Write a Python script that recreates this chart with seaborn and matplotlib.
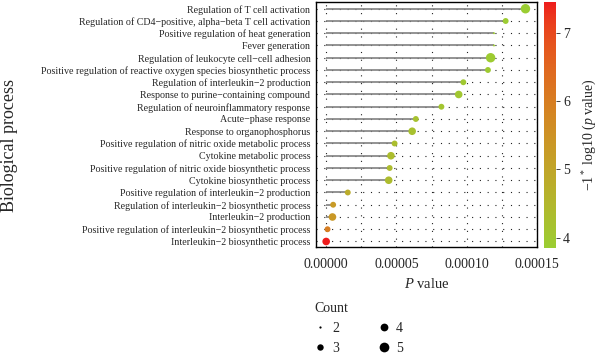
import numpy as np
import pandas as pd
import matplotlib
matplotlib.use("Agg")
import matplotlib.pyplot as plt
import seaborn as sns
from matplotlib.colors import LinearSegmentedColormap, Normalize
from matplotlib.lines import Line2D

# ---------------- data ----------------
terms = [
    "Regulation of T cell activation",
    "Regulation of CD4\u2212positive, alpha\u2212beta T cell activation",
    "Positive regulation of heat generation",
    "Fever generation",
    "Regulation of leukocyte cell\u2212cell adhesion",
    "Positive regulation of reactive oxygen species biosynthetic process",
    "Regulation of interleukin\u22122 production",
    "Response to purine\u2212containing compound",
    "Regulation of neuroinflammatory response",
    "Acute\u2212phase response",
    "Response to organophosphorus",
    "Positive regulation of nitric oxide metabolic process",
    "Cytokine metabolic process",
    "Positive regulation of nitric oxide biosynthetic process",
    "Cytokine biosynthetic process",
    "Positive regulation of interleukin\u22122 production",
    "Regulation of interleukin\u22122 biosynthetic process",
    "Interleukin\u22122 production",
    "Positive regulation of interleukin\u22122 biosynthetic process",
    "Interleukin\u22122 biosynthetic process",
]
pvalues = [1.418e-4, 1.277e-4, 1.194e-4, 1.194e-4, 1.170e-4, 1.151e-4,
           0.976e-4, 0.943e-4, 0.820e-4, 0.638e-4, 0.612e-4, 0.487e-4,
           0.461e-4, 0.452e-4, 0.445e-4, 0.154e-4, 5.0e-6, 4.5e-6,
           1.0e-6, 3.5e-8]
counts = [5, 3, 2, 2, 5, 3, 3, 4, 3, 3, 4, 3, 4, 3, 4, 3, 3, 4, 3, 4]
xticks = [0.0, 0.00005, 0.00010, 0.00015]
xticklabels = ["0.00000", "0.00005", "0.00010", "0.00015"]
cbar_ticks = [4, 5, 6, 7]

df = pd.DataFrame({"term": terms, "p": pvalues, "count": counts})
df["logp"] = -np.log10(df["p"])
df["ypos"] = np.arange(len(df))

# ---------------- colormap (Lab interpolation) ----------------
_M = np.array([[0.4124, 0.3576, 0.1805], [0.2126, 0.7152, 0.0722], [0.0193, 0.1192, 0.9505]])
_W = np.array([0.95047, 1.0, 1.08883])

def _srgb_to_lab(rgb):
    c = np.array(rgb, dtype=float)
    lin = np.where(c <= 0.04045, c / 12.92, ((c + 0.055) / 1.055) ** 2.4)
    xyz = _M @ lin / _W
    f = np.where(xyz > 0.008856, np.cbrt(xyz), 7.787 * xyz + 16 / 116)
    return np.array([116 * f[1] - 16, 500 * (f[0] - f[1]), 200 * (f[1] - f[2])])

def _lab_to_srgb(lab):
    L, a, b = lab
    fy = (L + 16) / 116
    f = np.array([fy + a / 500, fy, fy - b / 200])
    xyz = np.where(f ** 3 > 0.008856, f ** 3, (f - 16 / 116) / 7.787) * _W
    lin = np.clip(np.linalg.inv(_M) @ xyz, 0, 1)
    c = np.where(lin <= 0.0031308, 12.92 * lin, 1.055 * lin ** (1 / 2.4) - 0.055)
    return np.clip(c, 0, 1)

low = matplotlib.colors.to_rgb("#9ACD32")
high = matplotlib.colors.to_rgb("#EE1C1C")
la, lb = _srgb_to_lab(low), _srgb_to_lab(high)
cols = [_lab_to_srgb(la + (lb - la) * t) for t in np.linspace(0, 1, 64)]
cmap = LinearSegmentedColormap.from_list("yg_red", cols)
vmin, vmax = df["logp"].min(), df["logp"].max()
norm = Normalize(vmin=vmin, vmax=vmax)

# ---------------- style ----------------
sns.set_theme(style="white")
plt.rcParams["font.family"] = ["Liberation Serif", "DejaVu Serif"]
plt.rcParams["mathtext.fontset"] = "custom"
plt.rcParams["mathtext.rm"] = "Liberation Serif"
plt.rcParams["mathtext.it"] = "Liberation Serif:italic"

fig = plt.figure(figsize=(6.0, 3.57), dpi=100)
ax = fig.add_axes([316 / 600, 1 - 247 / 357, (537 - 316) / 600, (247 - 2) / 357])
cax = fig.add_axes([544 / 600, 1 - 248 / 357, 12 / 600, (248 - 2) / 357])

# grid (dotted)
for x in np.arange(0, 0.000151, 0.000025):
    ax.axvline(x, color="#222222", lw=0.8, ls=(0, (1, 6)), zorder=0)
for y in df["ypos"]:
    ax.axhline(y, color="#222222", lw=0.8, ls=(0, (1, 6)), zorder=0)

# segments
ax.hlines(df["ypos"], 0, df["p"], color="#808080", lw=1.2, zorder=1)

size_map = {2: 2.0, 3: 18, 4: 30, 5: 46}
sns.scatterplot(data=df, x="p", y="ypos", hue="logp", size="count",
                palette=cmap, hue_norm=norm, sizes=size_map,
                linewidth=0, legend=False, ax=ax, zorder=3)

ax.set_xlim(-7.2e-6, 1.49e-4)
ax.set_ylim(len(df) - 0.55, -0.55)
ax.set_yticks(df["ypos"])
ax.set_yticklabels(terms, fontsize=7.2)
ax.set_xticks(xticks)
ax.set_xticklabels(xticklabels, fontsize=10)
ax.tick_params(axis="y", length=2, width=0.8, color="black", pad=2)
ax.tick_params(axis="x", length=0, pad=8)
ax.set_xlabel("$P$ value", fontsize=10.5, labelpad=4)
ax.set_ylabel("")
for s in ax.spines.values():
    s.set_color("black")
    s.set_linewidth(1.0)
ax.grid(False)

fig.text(10 / 600, 1 - 146 / 357, "Biological process", rotation=90,
         fontsize=13, ha="center", va="center")

# colorbar
sm = matplotlib.cm.ScalarMappable(norm=norm, cmap=cmap)
cb = fig.colorbar(sm, cax=cax)
cb.outline.set_visible(False)
cb.set_ticks(cbar_ticks)
cb.ax.tick_params(length=3, width=0.6, labelsize=10, pad=2)
fig.text(590 / 600, 1 - 135 / 357, "\u22121$^*$ log10 ($p$ value)", rotation=90,
         fontsize=10, ha="center", va="center")

# size legend
leg_sizes = {2: 1.6, 3: 4.6, 4: 5.6, 5: 7.0}
handles = [Line2D([], [], ls="", marker="o", color="black",
                  markersize=leg_sizes[c], markeredgewidth=0)
           for c in [2, 3, 4, 5]]
leg = fig.legend(handles, ["2", "3", "4", "5"], title="Count", ncol=2,
                 loc="upper left", bbox_to_anchor=(314 / 600, 1 - 302 / 357),
                 frameon=False, fontsize=10, title_fontsize=10,
                 handlelength=0.8, handletextpad=0.5, columnspacing=2.8,
                 labelspacing=0.5, borderpad=0, borderaxespad=0)
leg._legend_box.align = "left"

fig.savefig("out.png", dpi=100)
